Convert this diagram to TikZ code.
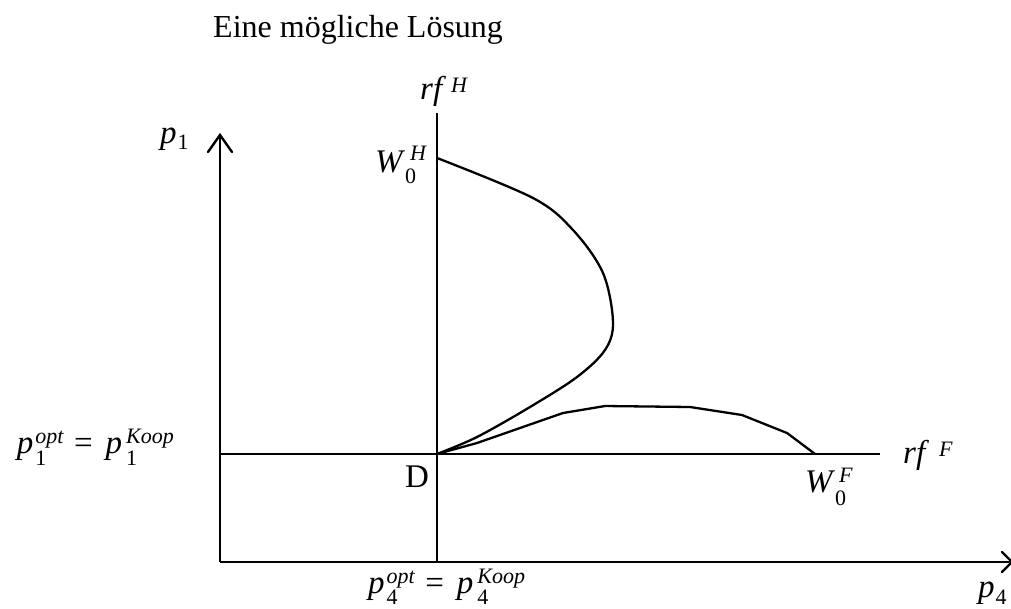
\documentclass[tikz,border=0pt]{standalone}
\usepackage{fontspec}
\setmainfont{Liberation Serif}
\newcommand\scrf{\fontsize{22}{26}\selectfont}
% base with superscript (#1), subscript (#2), sup kern (#3), raise (#4), lower (#5)
\newcommand\supsub[5]{\begingroup
  \setbox0\hbox{\kern#3\raisebox{#4}{\scrf #1}}%
  \setbox2\hbox{\raisebox{-#5}{\scrf #2}}%
  \ifdim\wd0>\wd2 \rlap{\box2}\box0 \else\rlap{\box0}\box2\fi\endgroup}
\newcommand\lowsub[2]{\kern1pt\raisebox{-#2}{\scrf #1}}
\newcommand\hisup[2]{\kern#2\raisebox{7pt}{\scrf\itshape #1}}
\begin{document}
\begin{tikzpicture}[x=1pt,y=-1pt,
  axis/.style={line width=2.6pt},
  crv/.style={line width=2.3pt, line join=round},
  arr/.style={line width=2.4pt, line cap=round, line join=miter},
  txt/.style={inner sep=0pt, font=\fontsize{32}{38}\selectfont},
  mth/.style={inner sep=0pt, font=\fontsize{33}{40}\selectfont}]
\useasboundingbox (0,0) rectangle (1011,608);
% coordinates
\coordinate (O) at (220,562);
\coordinate (Ytop) at (220,135);
\coordinate (Xend) at (1010,562);
\coordinate (D) at (437,454);
\coordinate (Htop) at (437,113);
\coordinate (Lleft) at (220,454);
\coordinate (Lright) at (880,454);
\coordinate (WH) at (437,158);
\coordinate (WF) at (815,454);
% axes
\draw[axis] (O) -- (Ytop);
\draw[axis] (O) -- (Xend);
\draw[arr] (208,152) -- (Ytop) -- (232,152);
\draw[arr] (1002,552) -- (1012,562) -- (1002,572);
\draw[axis] (D |- O) -- (Htop);
\draw[axis] (Lleft) -- (Lright);
% curves
\draw[crv] plot[smooth, tension=0.55] coordinates {(WH) (533,198) (573,230) (603,273) (613,322) (605,350) (577,377) (530,407) (477,437) (D)};
\draw[crv] (D) -- (477,443) -- (563,413) -- (605,406) -- (690,407) -- (742,415) -- (787,433) -- (WF);
% labels
\node[txt, anchor=base west] (title) at (213,37) {Eine mögliche Lösung};
\node[mth, anchor=base west] (p1) at (160,143) {\textit{p}\lowsub{1}{6pt}};
\node[mth, anchor=base west] (rfH) at (420,99) {\textit{rf}\hisup{H}{5pt}};
\node[mth, anchor=base west] (w0h) at (375,172) {\textit{W}\supsub{\textit{H}}{0}{5pt}{12pt}{11pt}};
\node[mth, anchor=base west] (dlab) at (405,487) {D};
\node[mth, anchor=base west] (w0f) at (805,492) {\textit{W}\supsub{\textit{F}}{0}{4pt}{10pt}{13pt}};
\node[mth, anchor=base west] (rfF) at (903,463) {\textit{rf}\hisup{F}{10pt}};
\node[mth, anchor=base east] (p1opt) at (174,453) {\textit{p}\kern2pt\supsub{\textit{opt}}{1}{0pt}{10pt}{12pt}\kern10pt=\kern13pt\textit{p}\kern4pt\supsub{\textit{Koop}}{1}{0pt}{10pt}{12pt}};
\node[mth, anchor=base west] (p4opt) at (368,593) {\textit{p}\kern2pt\supsub{\textit{opt}}{4}{0pt}{10pt}{11pt}\kern10pt=\kern13pt\textit{p}\kern4pt\supsub{\textit{Koop}}{4}{0pt}{10pt}{11pt}};
\node[mth, anchor=base west] (p4) at (978,597) {\textit{p}\lowsub{4}{7pt}};
\end{tikzpicture}
\end{document}
